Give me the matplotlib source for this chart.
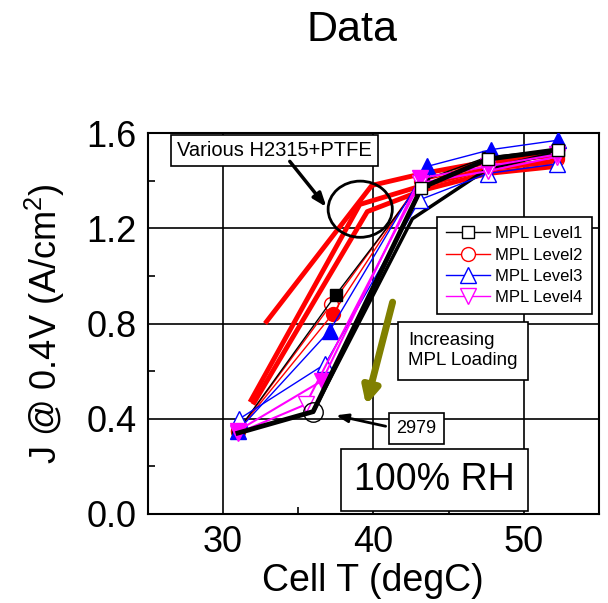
import matplotlib
matplotlib.use("Agg")
import matplotlib.pyplot as plt
from matplotlib.patches import Ellipse
from matplotlib.ticker import MultipleLocator

plt.rcParams['font.family'] = ['Liberation Sans', 'DejaVu Sans']
plt.rcParams['mathtext.fontset'] = 'custom'
plt.rcParams['mathtext.rm'] = 'Liberation Sans'

# cell temperature (degC) and current density J @ 0.4V (A/cm2)

# MPL Level1 (black squares)
t_l1_fill = [31.0, 37.5, 43.3, 47.6, 52.3]
j_l1_fill = [0.35, 0.92, 1.40, 1.50, 1.53]
t_l1_open = [31.0, 36.0, 43.2, 47.6, 52.3]
j_l1_open = [0.34, 0.43, 1.37, 1.49, 1.53]
t_2979b = [36.0, 42.6, 47.6, 52.3]
j_2979b = [0.43, 1.24, 1.45, 1.52]

# MPL Level2 (red circles)
t_l2_fill = [31.0, 37.3, 43.2, 47.6, 52.2]
j_l2_fill = [0.35, 0.84, 1.41, 1.47, 1.50]
t_l2_open = [31.0, 37.2, 43.2, 47.6, 52.2]
j_l2_open = [0.35, 0.88, 1.40, 1.46, 1.49]

# various H2315+PTFE (thick red, no markers)
t_ptfe_a = [32.8, 39.9, 43.3, 47.6, 52.2]
j_ptfe_a = [0.80, 1.38, 1.43, 1.48, 1.51]
t_ptfe_b = [31.8, 39.1, 43.3, 47.6, 52.2]
j_ptfe_b = [0.47, 1.30, 1.38, 1.45, 1.48]
t_ptfe_c = [32.0, 39.6, 43.3, 47.6, 52.2]
j_ptfe_c = [0.46, 1.27, 1.36, 1.43, 1.46]

# MPL Level3 (blue up triangles)
t_l3_fill = [31.0, 37.1, 43.6, 47.8, 52.3]
j_l3_fill = [0.35, 0.77, 1.46, 1.53, 1.57]
t_l3_open = [31.1, 36.8, 43.1, 47.6, 52.2]
j_l3_open = [0.40, 0.63, 1.32, 1.43, 1.47]

# MPL Level4 (magenta down triangles)
t_l4_fill = [31.0, 36.6, 43.1, 47.6, 52.2]
j_l4_fill = [0.35, 0.56, 1.41, 1.46, 1.51]
t_l4_open = [31.0, 35.5, 43.1, 47.6, 52.2]
j_l4_open = [0.34, 0.46, 1.39, 1.44, 1.50]

fig = plt.figure(figsize=(6.08, 6.03), dpi=100)
ax = fig.add_axes([0.243, 0.1476, 0.742, 0.6318])

# thick red PTFE lines
for t, j in [(t_ptfe_a, j_ptfe_a), (t_ptfe_b, j_ptfe_b), (t_ptfe_c, j_ptfe_c)]:
    ax.plot(t, j, color='red', lw=3.5, solid_capstyle='butt', zorder=3)

# thin red lines with circles
ax.plot(t_l2_open, j_l2_open, color='red', lw=1, marker='o', ms=10, mfc='white', mec='red', zorder=4)
ax.plot(t_l2_fill, j_l2_fill, color='red', lw=1, marker='o', ms=10, mfc='red', mec='red', zorder=4)

# black
ax.plot(t_l1_fill, j_l1_fill, color='black', lw=1, marker='s', ms=9, mfc='black', zorder=4)
ax.plot(t_2979b, j_2979b, color='black', lw=2.5, zorder=4)
ax.plot(t_l1_open, j_l1_open, color='black', lw=3.5, marker='s', ms=9, mfc='white',
        markevery=[2, 3, 4], zorder=5)

# blue
ax.plot(t_l3_open, j_l3_open, color='blue', lw=1, marker='^', ms=11, mfc='white', mec='blue', zorder=4)
ax.plot(t_l3_fill, j_l3_fill, color='blue', lw=1, marker='^', ms=11, mfc='blue', mec='blue', zorder=4)

# magenta
ax.plot(t_l4_open, j_l4_open, color='magenta', lw=1.5, marker='v', ms=11, mfc='white', mec='magenta', zorder=4)
ax.plot(t_l4_fill, j_l4_fill, color='magenta', lw=1.5, marker='v', ms=11, mfc='magenta', mec='magenta', zorder=4)

# 2979 ring
ax.plot(t_l1_open[1], j_l1_open[1], marker='o', ms=14, mfc='none', mec='black', mew=1, zorder=6)

ax.set_xlim(25, 55)
ax.set_ylim(0, 1.6)
ax.xaxis.set_major_locator(MultipleLocator(10))
ax.xaxis.set_minor_locator(MultipleLocator(5))
ax.yaxis.set_major_locator(MultipleLocator(0.4))
ax.yaxis.set_minor_locator(MultipleLocator(0.2))
ax.yaxis.set_major_formatter(plt.FuncFormatter(lambda v, p: f'{v:.1f}'))
ax.grid(True, which='major', color='black', lw=1.2)
ax.set_axisbelow(True)
ax.tick_params(which='major', length=0, labelsize=26, pad=8)
ax.tick_params(which='minor', direction='in', length=5, width=1.2)
for s in ax.spines.values():
    s.set_linewidth(1.5)

ax.set_xlabel('Cell T (degC)', fontsize=27, labelpad=2)
ax.set_ylabel('J @ 0.4V (A/cm$^2$)', fontsize=26, labelpad=14)

fig.text(352 / 608, 1 - 30 / 603, 'Data', fontsize=31, ha='center', va='center')

# annotations
ax.text(33.45, 1.528, 'Various H2315+PTFE', fontsize=14.5, ha='center', va='center',
        bbox=dict(boxstyle='square,pad=0.3', fc='white', ec='black', lw=1.2), zorder=8)
ax.annotate('', xy=(37.0, 1.28), xytext=(34.33, 1.49),
            arrowprops=dict(arrowstyle='-|>,head_length=0.8,head_width=0.3', color='black', lw=2.5), zorder=8)
ax.add_patch(Ellipse((39.13, 1.28), 4.27, 0.236, fill=False, ec='black', lw=2, zorder=8))

ax.annotate('', xy=(39.47, 0.446), xytext=(41.33, 0.901),
            arrowprops=dict(arrowstyle='-|>,head_length=1.0,head_width=0.5', color='#808000', lw=5), zorder=8)
ax.text(42.3, 0.686, 'Increasing\nMPL Loading', fontsize=13.5, ha='left', va='center',
        linespacing=1.25, bbox=dict(boxstyle='square,pad=0.55', fc='white', ec='black', lw=1.2), zorder=8)

ax.text(42.87, 0.358, '2979', fontsize=13, ha='center', va='center',
        bbox=dict(boxstyle='square,pad=0.4', fc='white', ec='black', lw=1.2), zorder=8)
ax.annotate('', xy=(37.33, 0.417), xytext=(41.0, 0.366),
            arrowprops=dict(arrowstyle='-|>,head_length=0.7,head_width=0.25', color='black', lw=2), zorder=8)

ax.text(44.07, 0.143, '100% RH', fontsize=27, ha='center', va='center',
        bbox=dict(boxstyle='square,pad=0.35', fc='white', ec='black', lw=1.2), zorder=8)

# legend
handles = [
    plt.Line2D([], [], color='black', lw=1, marker='s', ms=9, mfc='white', mec='black'),
    plt.Line2D([], [], color='red', lw=1, marker='o', ms=10, mfc='white', mec='red'),
    plt.Line2D([], [], color='blue', lw=1, marker='^', ms=11, mfc='white', mec='blue'),
    plt.Line2D([], [], color='magenta', lw=1, marker='v', ms=11, mfc='white', mec='magenta'),
]
leg = ax.legend(handles, ['MPL Level1', 'MPL Level2', 'MPL Level3', 'MPL Level4'],
                loc='upper left', bbox_to_anchor=(437 / 608, 1 - 217 / 603),
                bbox_transform=fig.transFigure, fontsize=12, frameon=True, fancybox=False,
                edgecolor='black', framealpha=1, handlelength=2.6, handletextpad=0.35,
                labelspacing=0.38, borderpad=0.55, borderaxespad=0)
leg.get_frame().set_linewidth(1.2)
leg.set_zorder(9)

fig.savefig('out.png', dpi=100)
